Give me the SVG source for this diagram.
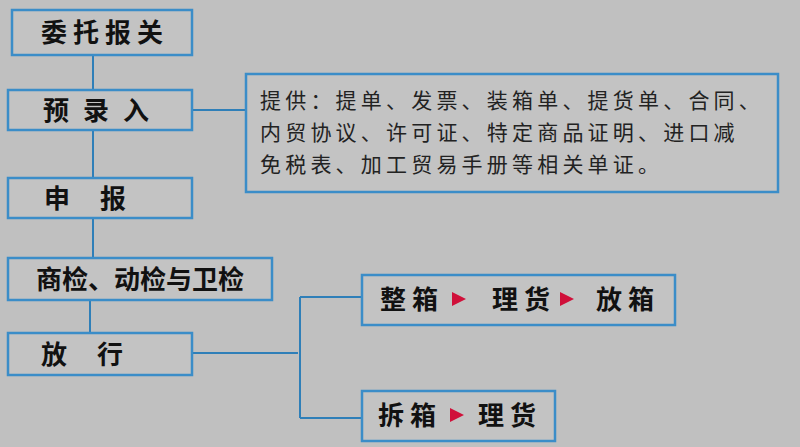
<svg xmlns="http://www.w3.org/2000/svg" width="800" height="447" viewBox="0 0 800 447">
<style>
.b{fill:#c3c3c3;stroke:#3b8dc8;stroke-width:2.5}
.t{font-family:"Noto Sans CJK SC",sans-serif;font-weight:bold;font-size:26px;fill:#111;text-anchor:middle;letter-spacing:6px}
.s{font-family:"Noto Sans CJK SC",sans-serif;font-size:21px;fill:#222;letter-spacing:4.2px}
.c{stroke:#2f7fb8;stroke-width:2;fill:none}
.a{fill:#d0103a}
</style>
<rect width="800" height="447" fill="#c0c0c0"/>
<g id="connectors">
<path class="c" d="M93 55V90M93 130V178M93 218V258M90 300V333M192 110H246M192 353H298M300 297V418M300 297H362M300 418H362"/>
</g>
<g id="n1"><rect class="b" x="12" y="10" width="180" height="45"/><text class="t" x="105" y="42">委托报关</text></g>
<g id="n2"><rect class="b" x="8" y="90" width="184" height="40"/><text class="t" x="103" y="120" style="letter-spacing:14px">预录入</text></g>
<g id="info"><rect class="b" x="246" y="74" width="532" height="118"/>
<text class="s" x="260" y="108">提供：提单、发票、装箱单、提货单、合同、</text>
<text class="s" x="260" y="140">内贸协议、许可证、特定商品证明、进口减</text>
<text class="s" x="260" y="172">免税表、加工贸易手册等相关单证。</text></g>
<g id="n3"><rect class="b" x="8" y="178" width="184" height="40"/><text class="t" x="100" y="208" style="letter-spacing:30px">申报</text></g>
<g id="n4"><rect class="b" x="8" y="258" width="264" height="42"/><text class="t" x="140" y="289" style="letter-spacing:0">商检、动检与卫检</text></g>
<g id="n5"><rect class="b" x="8" y="333" width="184" height="42"/><text class="t" x="97" y="364" style="letter-spacing:30px">放行</text></g>
<g id="n6"><rect class="b" x="362" y="275" width="313" height="50"/>
<text class="t" x="412" y="309">整箱</text><polygon class="a" points="452,292 466,299 452,306"/>
<text class="t" x="524" y="309">理货</text><polygon class="a" points="560,292 574,299 560,306"/>
<text class="t" x="628" y="309">放箱</text></g>
<g id="n7"><rect class="b" x="362" y="391" width="193" height="50"/>
<text class="t" x="410" y="425">拆箱</text><polygon class="a" points="450,408 464,415 450,422"/>
<text class="t" x="510" y="425">理货</text></g>
</svg>
